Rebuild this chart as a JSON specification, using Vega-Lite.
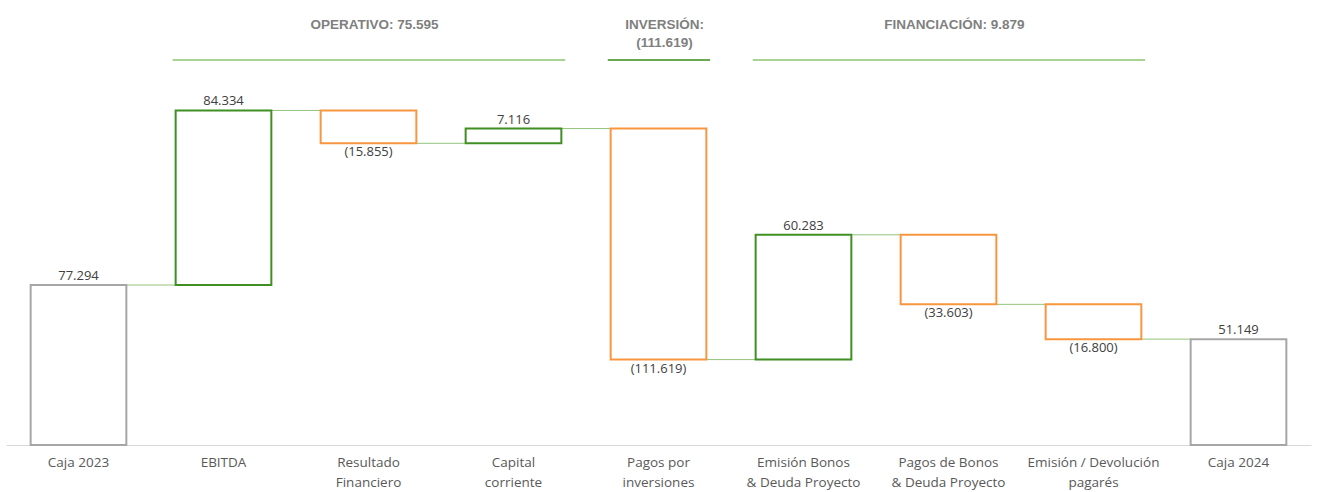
{
  "$schema": "https://vega.github.io/schema/vega-lite/v6.json",
  "autosize": "none",
  "width": 1305,
  "height": 445,
  "padding": {"left": 6, "right": 6, "top": 0, "bottom": 47},
  "background": "white",
  "config": {"view": {"stroke": null}},
  "datasets": {
    "steps": [
      {"cat": "Caja 2023", "next": "EBITDA", "start": 0, "end": 77294, "type": "total", "label": "77.294"},
      {"cat": "EBITDA", "next": "Resultado|Financiero", "start": 77294, "end": 161628, "type": "up", "label": "84.334"},
      {"cat": "Resultado|Financiero", "next": "Capital|corriente", "start": 161628, "end": 145773, "type": "down", "label": "(15.855)"},
      {"cat": "Capital|corriente", "next": "Pagos por|inversiones", "start": 145773, "end": 152889, "type": "up", "label": "7.116"},
      {"cat": "Pagos por|inversiones", "next": "Emisión Bonos|& Deuda Proyecto", "start": 152889, "end": 41270, "type": "down", "label": "(111.619)"},
      {"cat": "Emisión Bonos|& Deuda Proyecto", "next": "Pagos de Bonos|& Deuda Proyecto", "start": 41270, "end": 101553, "type": "up", "label": "60.283"},
      {"cat": "Pagos de Bonos|& Deuda Proyecto", "next": "Emisión / Devolución|pagarés", "start": 101553, "end": 67950, "type": "down", "label": "(33.603)"},
      {"cat": "Emisión / Devolución|pagarés", "next": "Caja 2024", "start": 67950, "end": 51150, "type": "down", "label": "(16.800)"},
      {"cat": "Caja 2024", "next": null, "start": 0, "end": 51149, "type": "total", "label": "51.149"}
    ],
    "headers": [
      {"group": "op", "text": "OPERATIVO: 75.595", "mid": "Resultado|Financiero", "from": "EBITDA", "to": "Capital|corriente"},
      {"group": "inv", "text": "INVERSIÓN:\n(111.619)", "mid": "Pagos por|inversiones", "from": "Pagos por|inversiones", "to": "Pagos por|inversiones"},
      {"group": "fin", "text": "FINANCIACIÓN: 9.879", "mid": "Pagos de Bonos|& Deuda Proyecto", "from": "Emisión Bonos|& Deuda Proyecto", "to": "Emisión / Devolución|pagarés"}
    ]
  },
  "encoding": {
    "x": {
      "field": "cat",
      "type": "nominal",
      "sort": null,
      "scale": {
        "domain": ["Caja 2023", "EBITDA", "Resultado|Financiero", "Capital|corriente", "Pagos por|inversiones", "Emisión Bonos|& Deuda Proyecto", "Pagos de Bonos|& Deuda Proyecto", "Emisión / Devolución|pagarés", "Caja 2024"],
        "paddingInner": 0.34,
        "paddingOuter": 0.17
      },
      "axis": {
        "title": null,
        "labelAngle": 0,
        "labelExpr": "split(datum.label, '|')",
        "labelFont": "Open Sans",
        "labelFontSize": 13.5,
        "labelColor": "#595959",
        "labelLineHeight": 20,
        "labelPadding": 10,
        "ticks": false,
        "domainColor": "#d9d9d9",
        "domainWidth": 1
      }
    }
  },
  "layer": [
    {
      "data": {"name": "steps"},
      "transform": [{"filter": "datum.next != null"}],
      "mark": {"type": "rule", "color": "#93c47d", "strokeWidth": 1},
      "encoding": {
        "x": {"field": "cat", "type": "nominal", "bandPosition": 1},
        "x2": {"field": "next", "bandPosition": 0},
        "y": {"field": "end", "type": "quantitative", "scale": {"domain": [0, 215000], "nice": false, "zero": true}, "axis": null}
      }
    },
    {
      "data": {"name": "steps"},
      "mark": {"type": "bar", "fill": "white", "strokeWidth": 2},
      "encoding": {
        "y": {"field": "start", "type": "quantitative", "axis": null},
        "y2": {"field": "end"},
        "stroke": {
          "field": "type",
          "type": "nominal",
          "scale": {"domain": ["total", "up", "down"], "range": ["#a6a6a6", "#3f8f22", "#f7963f"]},
          "legend": null
        }
      }
    },
    {
      "data": {"name": "steps"},
      "transform": [{"filter": "datum.type != 'down'"}],
      "mark": {"type": "text", "baseline": "bottom", "dy": -2, "font": "Open Sans", "fontSize": 13, "color": "#404040"},
      "encoding": {
        "y": {"field": "end", "type": "quantitative"},
        "text": {"field": "label"}
      }
    },
    {
      "data": {"name": "steps"},
      "transform": [{"filter": "datum.type == 'down'"}],
      "mark": {"type": "text", "baseline": "top", "dy": 3, "font": "Open Sans", "fontSize": 13, "color": "#404040"},
      "encoding": {
        "y": {"field": "end", "type": "quantitative"},
        "text": {"field": "label"}
      }
    },
    {
      "data": {"name": "headers"},
      "mark": {"type": "rule", "strokeWidth": 1.5},
      "encoding": {
        "x": {"field": "from", "type": "nominal", "bandPosition": -0.03},
        "x2": {"field": "to", "bandPosition": 1.04},
        "y": {"datum": 186000, "type": "quantitative"},
        "stroke": {"condition": {"test": "datum.group == 'inv'", "value": "#3c8c1c"}, "value": "#8cc46e"}
      }
    },
    {
      "data": {"name": "headers"},
      "mark": {"type": "text", "baseline": "middle", "lineBreak": "\n", "lineHeight": 18, "font": "Liberation Sans", "fontWeight": "bold", "fontSize": 13.5, "color": "#7f7f7f", "dx": 6},
      "encoding": {
        "x": {"field": "mid", "type": "nominal"},
        "y": {"datum": 203000, "type": "quantitative"},
        "text": {"field": "text"}
      }
    }
  ]
}
